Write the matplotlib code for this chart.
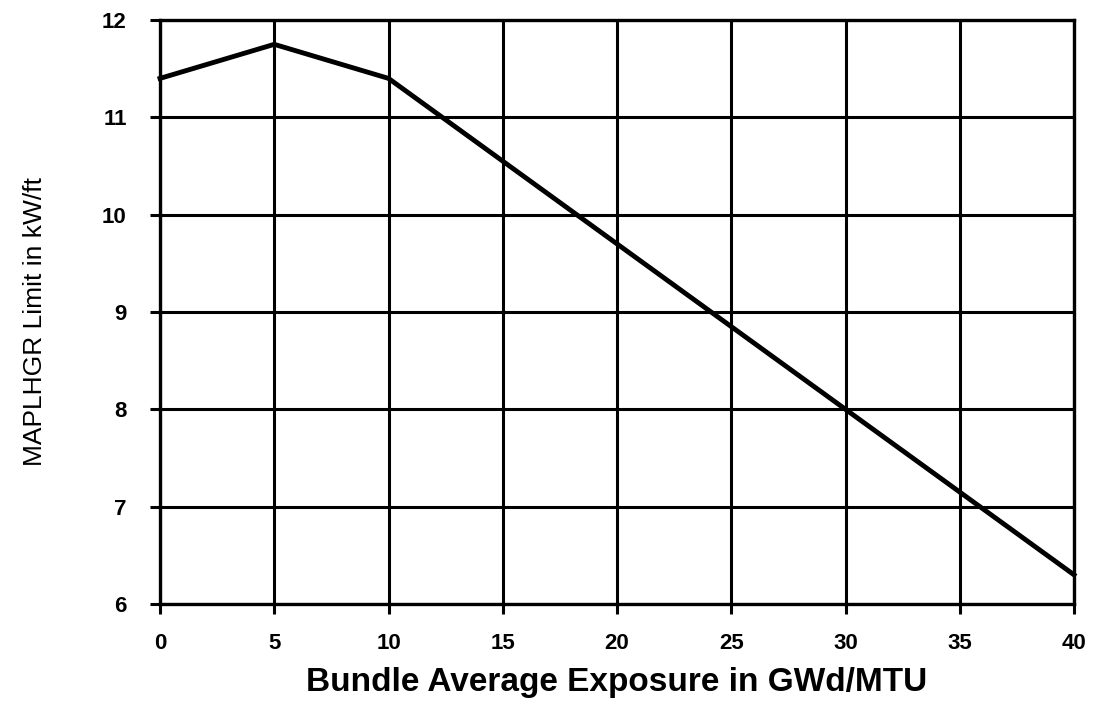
import matplotlib
matplotlib.use("Agg")
import matplotlib.pyplot as plt

exposure = [0, 5, 10, 15, 20, 25, 30, 35, 40]
maplhgr = [11.40, 11.75, 11.40, 10.55, 9.70, 8.85, 8.00, 7.15, 6.30]
xticks = [0, 5, 10, 15, 20, 25, 30, 35, 40]
yticks = [6, 7, 8, 9, 10, 11, 12]

fig = plt.figure(figsize=(10.95, 7.06), dpi=100)
ax = fig.add_axes([160/1095, 1-604/706, (1074-160)/1095, (604-20)/706])

ax.plot(exposure, maplhgr, color="black", lw=3.5, solid_joinstyle="miter", zorder=3, clip_on=False)
ax.set_xlim(0, 40)
ax.set_ylim(6, 12)
ax.set_xticks(xticks)
ax.set_yticks(yticks)
ax.set_xticklabels([str(v) for v in xticks])
ax.set_yticklabels([str(v) for v in yticks])
ax.grid(True, color="black", lw=2.2)
for s in ax.spines.values():
    s.set_linewidth(2.4)
ax.tick_params(direction="out", length=7, width=2.2)
ax.tick_params(axis="x", pad=14)
ax.tick_params(axis="y", pad=17)
for lab in ax.get_xticklabels() + ax.get_yticklabels():
    lab.set_fontfamily(["Liberation Sans", "DejaVu Sans"])
    lab.set_fontweight("bold")
    lab.set_fontsize(16)
ax.set_xlabel("Bundle Average Exposure in GWd/MTU", fontsize=24, fontweight="bold",
              family=["Liberation Sans", "DejaVu Sans"], va="center")
ax.xaxis.set_label_coords(0.5, -0.135)
ax.set_ylabel("MAPLHGR Limit in kW/ft", fontsize=19, va="center",
              family=["Liberation Sans Narrow", "Liberation Sans", "DejaVu Sans"])
ax.yaxis.set_label_coords(-0.137, 0.483)

fig.savefig("out.png", dpi=100)
